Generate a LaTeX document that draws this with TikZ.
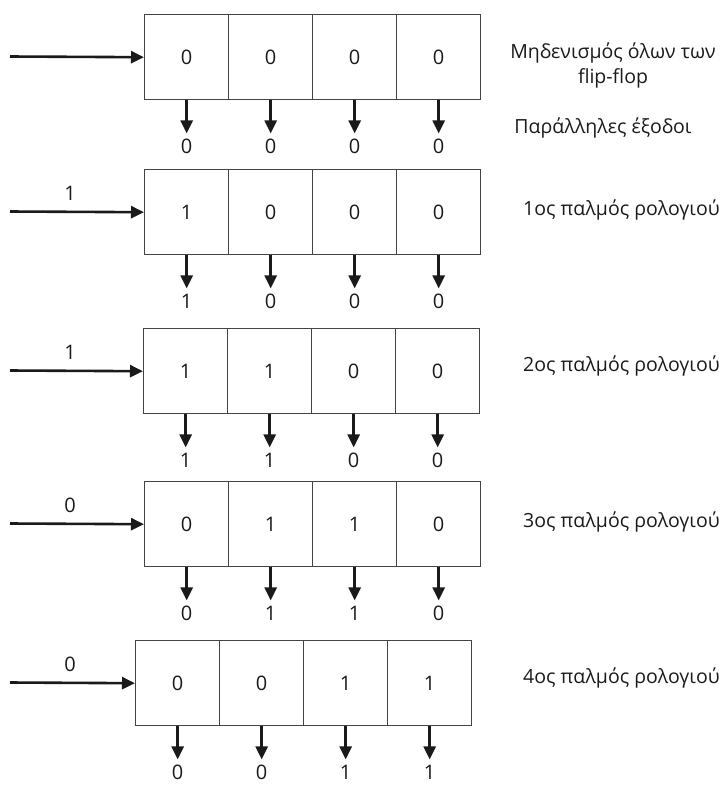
\documentclass[tikz,border=0pt]{standalone}
\usepackage{fontspec}
\setmainfont{Open Sans}
\usetikzlibrary{arrows.meta}
\definecolor{boxline}{HTML}{444444}
\definecolor{ink}{HTML}{1A1A1A}
\begin{document}
\begin{tikzpicture}[x=1pt,y=-1pt,
  cell/.style={draw=boxline,line width=1.4pt,minimum width=84pt,minimum height=85pt,inner sep=0pt,anchor=north west,font=\fontsize{20}{22}\selectfont,text=ink},
  outd/.style={anchor=north,inner xsep=0pt,inner ysep=0pt,text height=14pt,text depth=0pt,yshift=-6pt,font=\fontsize{20}{22}\selectfont,text=ink},
  pulse/.style={-{Triangle[length=13pt,width=12pt]},line width=2.6pt,draw=ink},
  lbl/.style={font=\fontsize{19.5}{25}\selectfont,text=ink,inner sep=0pt}]
\useasboundingbox (0,0) rectangle (725,788);
% row data: index/top/left/input label/cells
\foreach \r/\top/\lft/\inp/\va/\vb/\vc/\vd in {1/14/144//0/0/0/0, 2/169/144/1/1/0/0/0, 3/328/143/1/1/1/0/0, 4/481/144/0/0/1/1/0, 5/640/135/0/0/0/1/1}{
  \node[cell] (r\r c1) at (\lft,\top) {\va};
  \node[cell] (r\r c2) at (\lft+84,\top) {\vb};
  \node[cell] (r\r c3) at (\lft+168,\top) {\vc};
  \node[cell] (r\r c4) at (\lft+252,\top) {\vd};
  \coordinate (in\r) at (10,\top+42.5);
  \draw[pulse] (in\r) -- (r\r c1.west);
  \node[lbl,font=\fontsize{20}{22}\selectfont] (il\r) at (70,\top+24) {\inp};
  \foreach \c/\v in {1/\va,2/\vb,3/\vc,4/\vd}{
    \node[outd] (o\r c\c) at ([yshift=-33pt]r\r c\c.south) {\v};
    \draw[pulse] (r\r c\c.south) -- ([yshift=6pt]o\r c\c.north);
  }
}
\node[lbl,align=center] (t0) at (613,65.5) {Μηδενισμός όλων των\\flip-flop};
\node[lbl] (tp) at (603,128) {Παράλληλες έξοδοι};
\node[lbl,anchor=west] (t1) at (523,210) {1ος παλμός ρολογιού};
\node[lbl,anchor=west] (t2) at (523,366) {2ος παλμός ρολογιού};
\node[lbl,anchor=west] (t3) at (523,522) {3ος παλμός ρολογιού};
\node[lbl,anchor=west] (t4) at (523,678) {4ος παλμός ρολογιού};
\end{tikzpicture}
\end{document}
